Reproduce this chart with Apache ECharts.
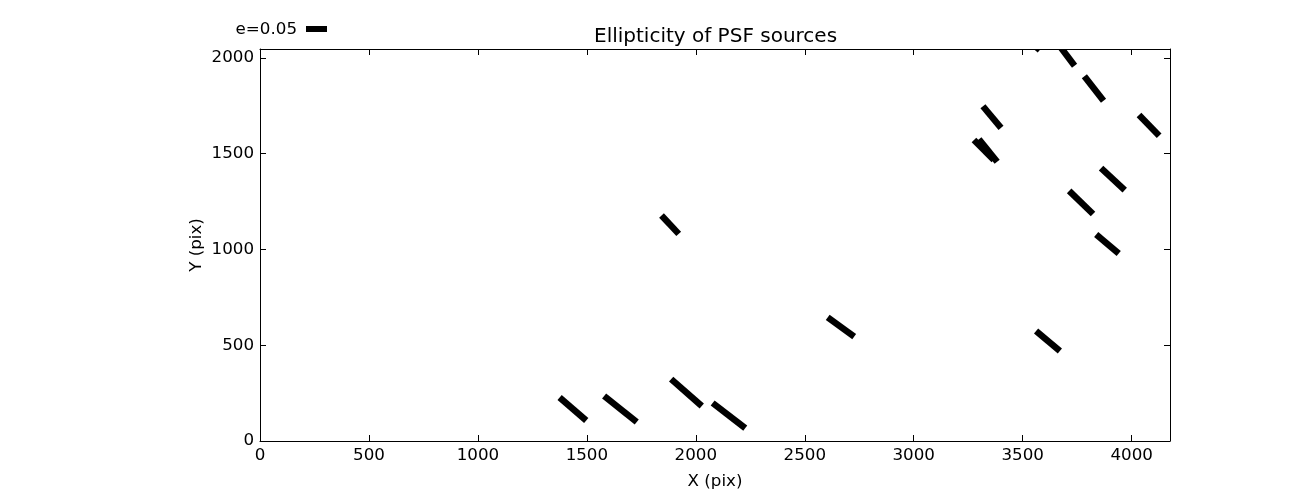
<!DOCTYPE html>
<html>
<head>
<meta charset="utf-8">
<script src="https://cdn.jsdelivr.net/npm/echarts@6/dist/echarts.min.js"></script>
<style>html,body{margin:0;padding:0;background:#fff;overflow:hidden;}#c{width:1300px;height:490px;}</style>
</head>
<body>
<div id="c"></div>
<script>
// Source positions (pix), ellipticity and position angle (deg, screen, ccw from +x)
const srcX   = [1436, 1654, 1957, 2152, 2666, 1882, 3616, 3524, 3694, 3827, 4080, 3359, 3322, 3341, 3914, 3768, 3889];
const srcY   = [ 167,  167,  253,  133,  595, 1129,  522, 2093, 2025, 1840, 1647, 1691, 1519, 1516, 1367, 1245, 1028];
const ellip  = [0.084, 0.0995, 0.097, 0.098, 0.078, 0.060, 0.074, 0.074, 0.076, 0.074, 0.069, 0.067, 0.067, 0.069, 0.077, 0.079, 0.070];
const theta  = [-41, -38.7, -41.3, -37.6, -36, -47, -40, -40, -53, -52, -46, -50, -45, -51, -43, -44, -40];
const xTicks = [0, 500, 1000, 1500, 2000, 2500, 3000, 3500, 4000];
const yTicks = [0, 500, 1000, 1500, 2000];
const keyE = 0.05;
const keyLabel = 'e=0.05';

const X_MAX = 4176, Y_MAX = 2046;
const K = 1927; // x-data units per unit of ellipticity (quiver scale)
const FONT = 'DejaVu Sans';
const FS = 16.7;
const LW = 6.5;

const data = srcX.map((x, i) => [x, srcY[i], ellip[i], theta[i]]);

const chart = echarts.init(document.getElementById('c'), null, {renderer: 'canvas'});

const tickCommon = {show: true, inside: true, length: 6, lineStyle: {color: '#000', width: 1}};
const lineCommon = {show: true, onZero: false, lineStyle: {color: '#000', width: 1}};

chart.setOption({
  animation: false,
  backgroundColor: '#fff',
  title: {
    text: 'Ellipticity of PSF sources',
    left: 594, top: 27, padding: 0,
    textStyle: {fontFamily: FONT, fontSize: 20, fontWeight: 'normal', color: '#000'}
  },
  grid: {left: 260, top: 49, width: 910, height: 392, show: false, containLabel: false, outerBoundsMode: 'none'},
  xAxis: [{
    type: 'value', min: 0, max: X_MAX, interval: 500, position: 'bottom',
    name: 'X (pix)', nameLocation: 'middle', nameGap: 32,
    nameTextStyle: {fontFamily: FONT, fontSize: FS, color: '#000'},
    axisLine: lineCommon, axisTick: tickCommon, splitLine: {show: false},
    axisLabel: {fontFamily: FONT, fontSize: FS, color: '#000', margin: 6, showMaxLabel: false,
      formatter: v => xTicks.includes(v) ? String(v) : ''}
  }, {
    type: 'value', min: 0, max: X_MAX, interval: 500, position: 'top',
    axisLine: lineCommon, axisTick: tickCommon, splitLine: {show: false}, axisLabel: {show: false}
  }],
  yAxis: [{
    type: 'value', min: 0, max: Y_MAX, interval: 500, position: 'left',
    name: 'Y (pix)', nameLocation: 'middle', nameGap: 55, nameRotate: 90, nameMoveOverlap: false,
    nameTextStyle: {fontFamily: FONT, fontSize: FS, color: '#000'},
    axisLine: lineCommon, axisTick: tickCommon, splitLine: {show: false},
    axisLabel: {fontFamily: FONT, fontSize: FS, color: '#000', margin: 6, showMaxLabel: false,
      formatter: v => yTicks.includes(v) ? String(v) : ''}
  }, {
    type: 'value', min: 0, max: Y_MAX, interval: 500, position: 'right',
    axisLine: lineCommon, axisTick: tickCommon, splitLine: {show: false}, axisLabel: {show: false}
  }],
  series: [{
    type: 'custom',
    clip: true,
    data: data,
    encode: {x: 0, y: 1},
    renderItem: function (params, api) {
      const c = api.coord([api.value(0), api.value(1)]);
      const L = api.size([api.value(2) * K, 0])[0];
      const a = api.value(3) * Math.PI / 180;
      const dx = L / 2 * Math.cos(a), dy = -L / 2 * Math.sin(a);
      return {
        type: 'line',
        shape: {x1: c[0] - dx, y1: c[1] - dy, x2: c[0] + dx, y2: c[1] + dy},
        style: {stroke: '#000', lineWidth: LW, lineCap: 'butt'}
      };
    }
  }]
});

// Quiver key
const p0 = chart.convertToPixel({xAxisIndex: 0}, 0);
const p1 = chart.convertToPixel({xAxisIndex: 0}, keyE * K);
const keyLen = p1 - p0;
const keyCx = 316.5, keyCy = 29;
chart.setOption({
  graphic: [{
    type: 'line',
    shape: {x1: keyCx - keyLen / 2, y1: keyCy, x2: keyCx + keyLen / 2, y2: keyCy},
    style: {stroke: '#000', lineWidth: 6, lineCap: 'butt'}
  }, {
    type: 'text',
    x: 297, y: keyCy + 1,
    style: {text: keyLabel, fill: '#000', font: FS + 'px "' + FONT + '"', textAlign: 'right', textVerticalAlign: 'middle'}
  }]
});
</script>
</body>
</html>
